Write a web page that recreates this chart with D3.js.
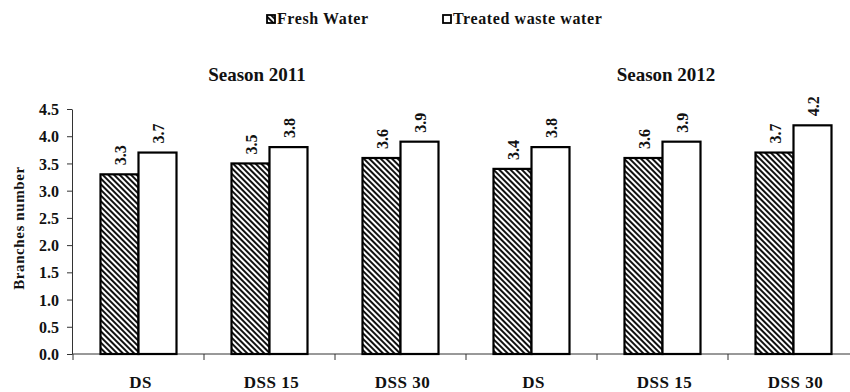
<!DOCTYPE html>
<html><head><meta charset="utf-8">
<script src="https://cdn.jsdelivr.net/npm/d3@7/dist/d3.min.js"></script>
<style>body{margin:0;background:#fff}svg{display:block}text{font-family:"Liberation Serif","Times New Roman",serif;font-weight:bold;fill:#111}</style>
</head><body><div id="chart"></div>
<script>
const categories = ["DS","DSS 15","DSS 30","DS","DSS 15","DSS 30"];
const seriesNames = ["Fresh Water","Treated waste water"];
const freshWater = [3.3,3.5,3.6,3.4,3.6,3.7];
const treatedWater = [3.7,3.8,3.9,3.8,3.9,4.2];
const seasons = ["Season 2011","Season 2012"];
const yTicks = [0,0.5,1,1.5,2,2.5,3,3.5,4,4.5];

const W=850,H=392;
const svg=d3.select("#chart").append("svg").attr("width",W).attr("height",H);
const defs=svg.append("defs");
const pat=defs.append("pattern").attr("id","hatch").attr("patternUnits","userSpaceOnUse")
  .attr("width",4).attr("height",4).attr("patternTransform","rotate(-45)");
pat.append("rect").attr("width",4).attr("height",4).attr("fill","#fff");
pat.append("rect").attr("x",0).attr("width",2).attr("height",4).attr("fill","#111");

const left=72, plotTop=109, plotBottom=354;
const x=d3.scaleBand().domain(d3.range(categories.length)).range([73,73+131*6]);
const sub=d3.scaleBand().domain([0,1]).range([x.bandwidth()/2-38,x.bandwidth()/2+38]);
const y=d3.scaleLinear().domain([0,4.5]).range([plotBottom,plotTop]);

// y axis
const ya=svg.append("g").attr("transform",`translate(${left},0)`)
  .call(d3.axisLeft(y).tickValues(yTicks).tickFormat(d3.format(".1f")).tickSize(5).tickSizeOuter(0));
ya.select(".domain").attr("stroke","#333");
ya.selectAll(".tick line").attr("stroke","#333");
ya.selectAll(".tick text").attr("font-size",16).attr("x",-13).attr("dy","0.35em")
  .attr("font-family","'Liberation Serif',serif").attr("fill","#111");

// x axis
svg.append("line").attr("x1",left).attr("x2",W).attr("y1",plotBottom).attr("y2",plotBottom).attr("stroke","#333");
svg.append("g").selectAll("line").data(d3.range(categories.length)).join("line")
  .attr("x1",d=>x(d)).attr("x2",d=>x(d)).attr("y1",plotBottom).attr("y2",plotBottom+6).attr("stroke","#333");
svg.append("g").selectAll("text").data(categories).join("text")
  .attr("x",(d,i)=>x(i)+x.bandwidth()/2+2).attr("y",388).attr("text-anchor","middle")
  .attr("font-size",17).attr("letter-spacing",0.5).text(d=>d);

const series=[freshWater,treatedWater];
const fills=["url(#hatch)","#fff"];
series.forEach((vals,s)=>{
  const g=svg.append("g");
  g.selectAll("rect").data(vals).join("rect")
    .attr("x",(d,i)=>x(i)+sub(s)).attr("width",sub.bandwidth())
    .attr("y",d=>y(d)).attr("height",d=>y(0)-y(d))
    .attr("fill",fills[s]).attr("stroke","#000").attr("stroke-width",2.2);
  g.selectAll("text").data(vals).join("text")
    .attr("transform",(d,i)=>`translate(${x(i)+sub(s)+sub.bandwidth()/2+6},${y(d)-9}) rotate(-90)`)
    .attr("font-size",16).attr("text-anchor","start").text(d=>d.toFixed(1));
});

// y label
svg.append("text").attr("transform","translate(24,228) rotate(-90)").attr("text-anchor","middle")
  .attr("font-size",15).attr("letter-spacing",0.6).text("Branches number");

// seasons
svg.append("g").selectAll("text").data(seasons).join("text")
  .attr("x",(d,i)=>[257,666][i]).attr("y",81).attr("text-anchor","middle").attr("font-size",19).text(d=>d);

// legend
const lg=svg.append("g");
const lx=[267,443];
seriesNames.forEach((n,i)=>{
  lg.append("rect").attr("x",lx[i]).attr("y",15).attr("width",8).attr("height",8)
    .attr("fill",fills[i]).attr("stroke","#000").attr("stroke-width",1.8);
  lg.append("text").attr("x",lx[i]+10).attr("y",24).attr("font-size",16).attr("letter-spacing",0.6).text(n);
});
</script></body></html>
